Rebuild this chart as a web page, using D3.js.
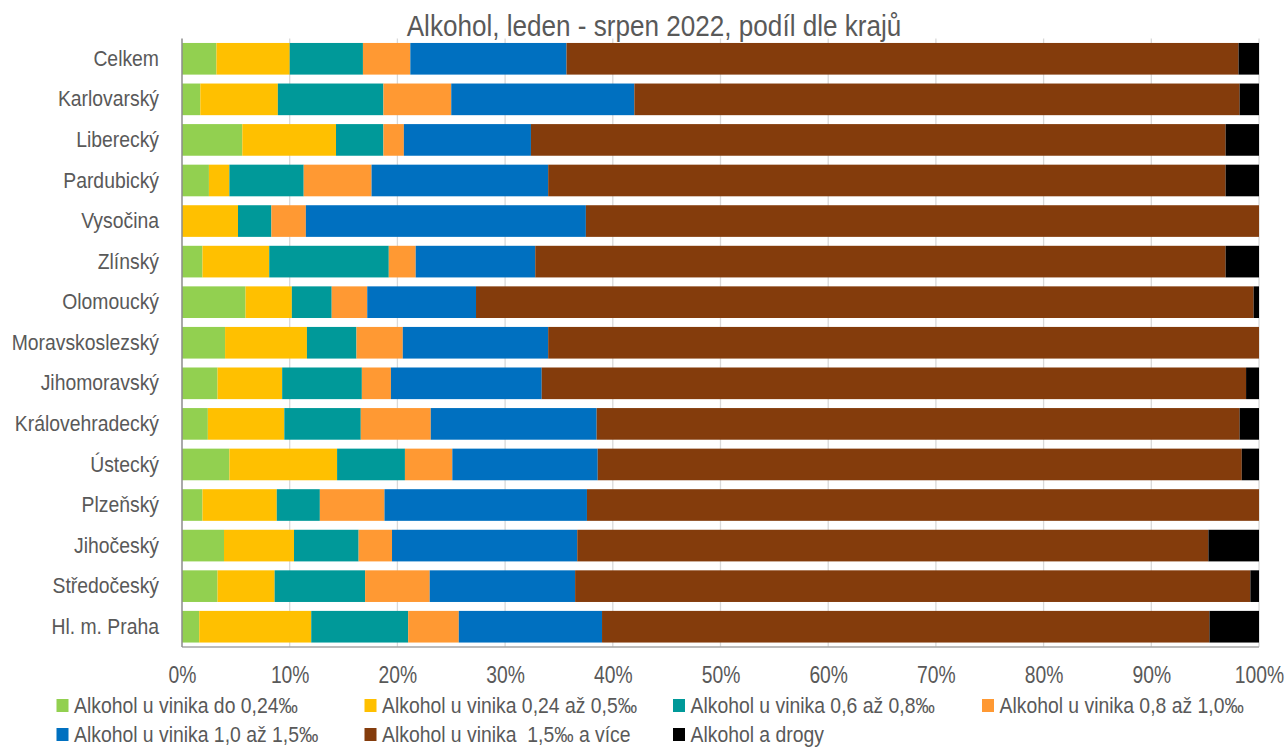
<!DOCTYPE html>
<html>
<head>
<meta charset="utf-8">
<script src="https://cdn.jsdelivr.net/npm/d3@7"></script>
<style>
  body { margin: 0; background: #fff; }
  svg text { font-family: "Liberation Sans Narrow", "Liberation Sans", Arial, sans-serif; fill: #595959; white-space: pre; }
</style>
</head>
<body>
<div id="chart"></div>
<script>
const regions = ["Celkem", "Karlovarský", "Liberecký", "Pardubický", "Vysočina", "Zlínský", "Olomoucký",
  "Moravskoslezský", "Jihomoravský", "Královehradecký", "Ústecký", "Plzeňský", "Jihočeský", "Středočeský", "Hl. m. Praha"];

const seriesNames = ["Alkohol u vinika do 0,24‰", "Alkohol u vinika 0,24 až 0,5‰", "Alkohol u vinika 0,6 až 0,8‰",
  "Alkohol u vinika 0,8 až 1,0‰", "Alkohol u vinika 1,0 až 1,5‰", "Alkohol u vinika  1,5‰ a více", "Alkohol a drogy"];

// one array per series, in region order
const doVal024 = [3.2, 1.7, 5.6, 2.5, 0.0, 1.9, 5.9, 4.0, 3.3, 2.4, 4.4, 1.9, 3.9, 3.3, 1.6];
const val024_05 = [6.8, 7.2, 8.7, 1.9, 5.2, 6.2, 4.3, 7.6, 6.0, 7.1, 10.0, 6.9, 6.5, 5.3, 10.4];
const val06_08 = [6.8, 9.8, 4.4, 6.9, 3.1, 11.1, 3.7, 4.6, 7.4, 7.1, 6.3, 4.0, 6.0, 8.4, 9.0];
const val08_10 = [4.4, 6.3, 1.9, 6.3, 3.2, 2.5, 3.3, 4.3, 2.7, 6.5, 4.4, 6.0, 3.1, 6.0, 4.7];
const val10_15 = [14.5, 17.0, 11.8, 16.4, 26.0, 11.1, 10.1, 13.5, 14.0, 15.4, 13.5, 18.8, 17.2, 13.5, 13.3];
const val15plus = [62.4, 56.2, 64.5, 62.9, 62.5, 64.1, 72.2, 66.0, 65.4, 59.7, 59.8, 62.4, 58.6, 62.7, 56.4];
const drogy = [1.9, 1.8, 3.1, 3.1, 0.0, 3.1, 0.5, 0.0, 1.2, 1.8, 1.6, 0.0, 4.7, 0.8, 4.6];

const xTicks = [0, 10, 20, 30, 40, 50, 60, 70, 80, 90, 100];
const colors = ["#92D050", "#FFC000", "#009999", "#FF9933", "#0070C0", "#843C0C", "#000000"];

const allSeries = [doVal024, val024_05, val06_08, val08_10, val10_15, val15plus, drogy];
const keys = d3.range(seriesNames.length).map(String);
const table = regions.map((r, i) => {
  const row = { region: r };
  allSeries.forEach((s, k) => row[k] = s[i]);
  return row;
});

const W = 1287, H = 747;
const margin = { top: 38.5, right: 28, bottom: 100, left: 182 };
const width = W - margin.left - margin.right,
      height = H - margin.top - margin.bottom;

// no narrow font available: squeeze the text horizontally
const squeeze = (sel, sx) => sel.each(function() {
  const t = d3.select(this);
  const tx = +t.attr("x") || 0, ty = +t.attr("y") || 0;
  t.attr("x", 0).attr("y", 0).attr("transform", `translate(${tx},${ty}) scale(${sx},1)`);
});

const svg = d3.select("#chart").append("svg")
  .attr("width", W).attr("height", H);

svg.append("text")
  .attr("x", 654).attr("y", 36)
  .attr("text-anchor", "middle")
  .style("font-size", "29px")
  .text("Alkohol, leden - srpen 2022, podíl dle krajů")
  .call(squeeze, 0.9);

const g = svg.append("g").attr("transform", `translate(${margin.left},${margin.top})`);

const x = d3.scaleLinear().domain([0, 100]).range([0, width]);
const y = d3.scaleBand().domain(regions).range([0, height]).paddingInner(0.22).paddingOuter(0.11);

// gridlines
g.append("g")
  .selectAll("line").data(xTicks.slice(1)).enter().append("line")
  .attr("x1", d => x(d)).attr("x2", d => x(d))
  .attr("y1", 0).attr("y2", height)
  .attr("stroke", "#d9d9d9").attr("stroke-width", 1.3);

const stack = d3.stack().keys(keys)(table);

g.selectAll(".series").data(stack).enter().append("g")
  .attr("fill", (d, i) => colors[i])
  .selectAll("rect").data(d => d).enter().append("rect")
  .attr("x", d => x(d[0]))
  .attr("y", d => y(d.data.region))
  .attr("width", d => Math.max(0, x(d[1]) - x(d[0])))
  .attr("height", y.bandwidth());

// plot borders
g.append("line").attr("x1", 0).attr("x2", width).attr("y1", height).attr("y2", height)
  .attr("stroke", "#a6a6a6").attr("stroke-width", 1.5);
g.append("line").attr("x1", 0).attr("x2", 0).attr("y1", 0).attr("y2", height)
  .attr("stroke", "#8c8c8c").attr("stroke-width", 1.5);

// x axis labels
const xAxis = g.append("g")
  .attr("transform", `translate(0,${height})`)
  .call(d3.axisBottom(x).tickValues(xTicks).tickFormat(d => d + "%").tickSize(0).tickPadding(20));
xAxis.select(".domain").remove();
xAxis.selectAll("text").style("font-size", "23px").attr("fill", "#595959").call(squeeze, 0.84);

// y axis labels
const yAxis = g.append("g")
  .call(d3.axisLeft(y).tickSize(0).tickPadding(23));
yAxis.select(".domain").remove();
yAxis.selectAll("text").style("font-size", "22px").attr("fill", "#595959").call(squeeze, 0.88);

// legend
const legendPos = [[56.5, 713], [364.5, 713], [673, 713], [982, 713], [56.5, 742], [364.5, 742], [673, 742]];
const legend = svg.selectAll(".legend").data(seriesNames).enter().append("g")
  .attr("class", "legend")
  .attr("transform", (d, i) => `translate(${legendPos[i][0]},${legendPos[i][1]})`);
legend.append("rect")
  .attr("x", 0).attr("y", -14).attr("width", 12).attr("height", 13)
  .attr("fill", (d, i) => colors[i]);
legend.append("text")
  .attr("x", 17.5).attr("y", 0)
  .style("font-size", "22px")
  .text(d => d)
  .call(squeeze, 0.88);
</script>
</body>
</html>
